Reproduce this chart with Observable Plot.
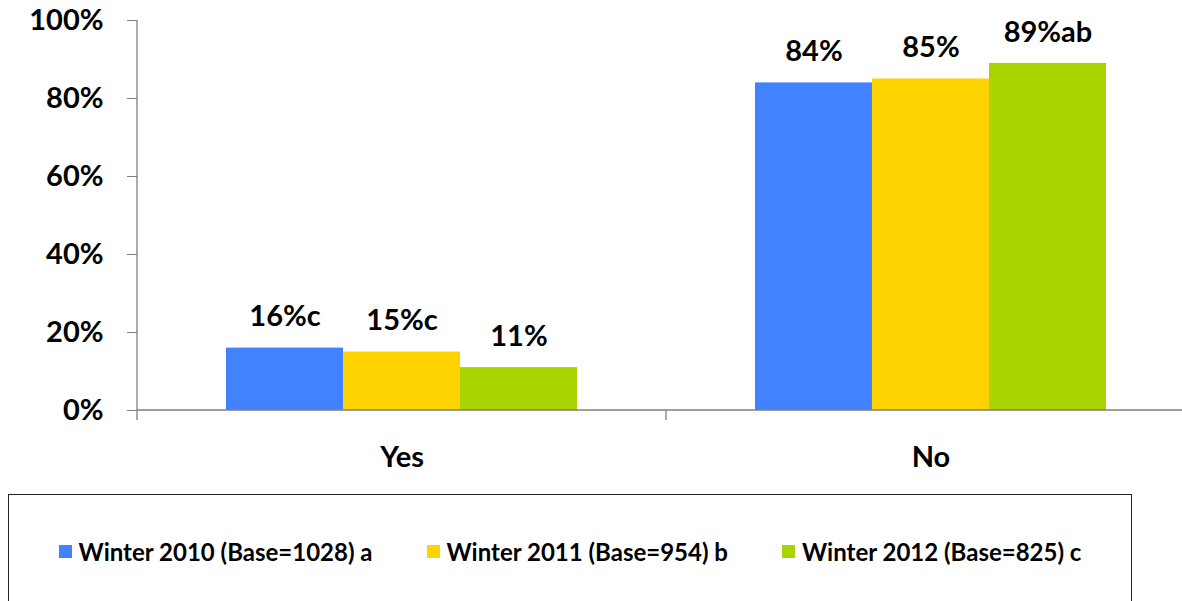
<!DOCTYPE html>
<html>
<head>
<meta charset="utf-8">
<script src="https://cdn.jsdelivr.net/npm/d3@7"></script>
<script src="https://cdn.jsdelivr.net/npm/@observablehq/plot@0.6"></script>
<style>
  html, body { margin: 0; padding: 0; background: white; overflow: hidden; width: 1182px; height: 601px; }
  #chart { position: absolute; left: 0; top: 0; }
  #legend {
    position: absolute; left: 8px; top: 494px; width: 1124px; height: 140px;
    border: 1px solid #222; box-sizing: border-box;
    font-family: Lato, sans-serif; font-weight: bold; font-size: 24px; color: #000;
  }
  #legend .row { position: absolute; top: 42px; left: 0; right: 0; display: flex; justify-content: center; gap: 54px; }
  #legend .item { display: flex; align-items: center; }
  #legend .sw { width: 13px; height: 13px; margin-right: 7px; }
</style>
</head>
<body>
<div id="chart"></div>
<div id="legend"><div class="row"></div></div>
<script>
const categories = ["Yes", "No"];
const series = ["Winter 2010 (Base=1028) a", "Winter 2011 (Base=954) b", "Winter 2012 (Base=825) c"];
const yesValues = [16, 15, 11];
const noValues = [84, 85, 89];
const yesLabels = ["16%c", "15%c", "11%"];
const noLabels = ["84%", "85%", "89%ab"];
const colors = ["#4282FF", "#FFD300", "#A9D400"];
const yTicks = [0, 20, 40, 60, 80, 100];

const valuesByCat = { Yes: yesValues, No: noValues };
const labelsByCat = { Yes: yesLabels, No: noLabels };
const data = [];
categories.forEach(c => series.forEach((s, i) => data.push({ cat: c, series: s, value: valuesByCat[c][i], label: labelsByCat[c][i] })));

const plot = Plot.plot({
  width: 1196,
  height: 490,
  marginLeft: 137,
  marginRight: 1,
  marginTop: 20,
  marginBottom: 80,
  style: { fontFamily: "Lato, sans-serif", fontWeight: "bold", color: "#000", maxWidth: "none", overflow: "visible", background: "white" },
  fx: { domain: categories, padding: 0 },
  x: { domain: series, paddingInner: 0, paddingOuter: 0.75, axis: null },
  y: { domain: [0, 100] },
  color: { domain: series, range: colors },
  marks: [
    Plot.barY(data, { fx: "cat", x: "series", y: "value", fill: "series" }),
    Plot.text(data, { fx: "cat", x: "series", y: "value", text: "label", dy: -31, fontSize: 29, fontWeight: "bold", fill: "#000" }),
    Plot.axisY({ ticks: yTicks, tickFormat: d => d + "%", tickSize: 10, tickPadding: 24, fontSize: 29, fontWeight: "bold", stroke: "#7f7f7f", fill: "#000", label: null }),
    Plot.axisFx({ anchor: "bottom", tickSize: 0, tickPadding: 36, fontSize: 29, fontWeight: "bold", fill: "#000", label: null })
  ]
});
document.getElementById("chart").appendChild(plot);

// axis lines and category boundary ticks, positioned through Plot's own scales
const fx = plot.scale("fx");
const y = plot.scale("y");
const svg = d3.select(plot);
const y0 = y.apply(0), yTop = y.apply(100);
const edges = categories.map(c => fx.apply(c));
edges.push(fx.apply(categories[categories.length - 1]) + fx.bandwidth);
const g = svg.append("g").attr("stroke", "#7f7f7f").attr("stroke-width", 1.3);
g.append("line").attr("x1", edges[0]).attr("x2", edges[edges.length - 1]).attr("y1", y0).attr("y2", y0);
g.append("line").attr("x1", edges[0]).attr("x2", edges[0]).attr("y1", yTop).attr("y2", y0);
edges.forEach(e => g.append("line").attr("x1", e).attr("x2", e).attr("y1", y0).attr("y2", y0 + 10));

// legend
const row = d3.select("#legend .row");
series.forEach((s, i) => {
  const it = row.append("div").attr("class", "item");
  it.append("div").attr("class", "sw").style("background", colors[i]);
  it.append("span").text(s);
});
</script>
</body>
</html>
